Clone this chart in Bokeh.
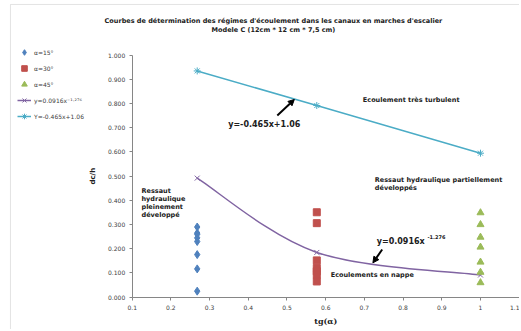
import math
from bokeh.plotting import figure
from bokeh.models import (Label, Arrow, NormalHead, Legend, LegendItem, BoxAnnotation,
                          NumeralTickFormatter, CustomJSTickFormatter, FixedTicker, Range1d)
from bokeh.embed import file_html
from bokeh.resources import INLINE

FONT = "DejaVu Sans"

# ---- data ----
x15 = [0.268] * 8
y15 = [0.290, 0.265, 0.260, 0.245, 0.230, 0.176, 0.117, 0.025]
x30 = [0.577] * 7
y30 = [0.351, 0.306, 0.152, 0.121, 0.107, 0.093, 0.065]
x45 = [1.0] * 7
y45 = [0.349, 0.300, 0.248, 0.207, 0.145, 0.103, 0.060]
xp = [0.268, 0.577, 1.0]
yp = [0.492, 0.185, 0.0916]          # y = 0.0916 x^-1.276
xl = [0.268, 0.577, 1.0]
yl = [0.935, 0.792, 0.595]           # Y = -0.465x + 1.06
x_ticks = [0.1, 0.2, 0.3, 0.4, 0.5, 0.6, 0.7, 0.8, 0.9, 1.0, 1.1]
y_ticks = [0.0, 0.1, 0.2, 0.3, 0.4, 0.5, 0.6, 0.7, 0.8, 0.9, 1.0]
names = ["\u03b1=15\u00b0", "\u03b1=30\u00b0", "\u03b1=45\u00b0",
         "y=0.0916x\u207b\u00b9\u00b7\u00b2\u2077\u2076", "Y=-0.465x+1.06"]

C_BLUE, C_RED, C_GREEN, C_PURPLE, C_CYAN = "#4F81BD", "#C0504D", "#9BBB59", "#8064A2", "#4BACC6"

p = figure(width=519, height=329, output_backend="svg", toolbar_location=None,
           x_range=Range1d(-0.2403, 1.1008), y_range=Range1d(-0.1335, 1.2260),
           min_border_left=0, min_border_right=0, min_border_top=0, min_border_bottom=0)
p.outline_line_color = None
p.grid.grid_line_color = None
p.background_fill_color = "white"

# axes drawn at fixed positions inside the full-canvas frame
p.xaxis.fixed_location = 0.0
p.xaxis.bounds = (0.1, 1.1)
p.yaxis.fixed_location = 0.1
p.yaxis.bounds = (0.0, 1.0)
for ax in (p.xaxis[0], p.yaxis[0]):
    ax.axis_line_color = "#868686"
    ax.major_tick_line_color = "#868686"
    ax.minor_tick_line_color = None
    ax.major_label_text_font = FONT
    ax.major_label_text_font_size = "6px"
    ax.major_label_text_color = "#404040"
    ax.major_tick_in = 0
    ax.major_tick_out = 3
p.xaxis.ticker = FixedTicker(ticks=x_ticks)
p.yaxis.ticker = FixedTicker(ticks=y_ticks)
p.xaxis.formatter = CustomJSTickFormatter(code="return tick.toFixed(1).replace(/\\.0$/, '');")
p.yaxis.formatter = NumeralTickFormatter(format="0.000")
p.xaxis.major_label_standoff = 5
p.yaxis.major_label_standoff = 4

# chart border
p.add_layout(BoxAnnotation(left=-0.2145, top=1.2095, right=1.3, bottom=-0.4,
                           fill_alpha=0, line_color="#a6a6a6", line_width=1))

# smooth curve (Catmull-Rom style, from the three data points)
pts = list(zip(xp, yp))
bx0, by0, bx1, by1, bcx0, bcy0, bcx1, bcy1 = [], [], [], [], [], [], [], []
for i in range(len(pts) - 1):
    pm = pts[i - 1] if i > 0 else pts[i]
    p0, p1 = pts[i], pts[i + 1]
    pn = pts[i + 2] if i + 2 < len(pts) else pts[i + 1]
    bx0.append(p0[0]); by0.append(p0[1]); bx1.append(p1[0]); by1.append(p1[1])
    bcx0.append(p0[0] + (p1[0] - pm[0]) / 6); bcy0.append(p0[1] + (p1[1] - pm[1]) / 6)
    bcx1.append(p1[0] - (pn[0] - p0[0]) / 6); bcy1.append(p1[1] - (pn[1] - p0[1]) / 6)
r_curve = p.bezier(x0=bx0, y0=by0, x1=bx1, y1=by1, cx0=bcx0, cy0=bcy0, cx1=bcx1, cy1=bcy1,
                   line_color=C_PURPLE, line_width=1.5)
pmk = p.scatter(xp, yp, marker="x", size=7, line_color=C_PURPLE, line_width=1)

r_lin = p.line(xl, yl, line_color=C_CYAN, line_width=1.5)
lmk = p.scatter(xl, yl, marker="asterisk", size=7, line_color=C_CYAN, line_width=1)

r15 = p.scatter(x15, y15, marker="diamond", size=8, fill_color=C_BLUE, line_color=C_BLUE)
r30 = p.scatter(x30, y30, marker="square", size=7, fill_color=C_RED, line_color=C_RED)
r45 = p.scatter(x45, y45, marker="triangle", size=7, fill_color=C_GREEN, line_color=C_GREEN)

legend = Legend(items=[
    LegendItem(label=names[0], renderers=[r15]),
    LegendItem(label=names[1], renderers=[r30]),
    LegendItem(label=names[2], renderers=[r45]),
    LegendItem(label=names[3], renderers=[r_curve, pmk]),
    LegendItem(label=names[4], renderers=[r_lin, lmk]),
], location=(17, 205), padding=0, margin=0, spacing=0, glyph_height=16, label_height=16,
    glyph_width=14, label_standoff=3, border_line_color=None, background_fill_alpha=0,
    label_text_font=FONT, label_text_font_size="6px", label_text_color="#404040")
p.add_layout(legend)

def lab(x, y, t, size="6.5px", bold=True, align="left", base="middle", font=FONT, angle=0):
    p.add_layout(Label(x=x, y=y, text=t, text_font=font, text_font_size=size,
                       text_font_style="bold" if bold else "normal", text_align=align,
                       text_baseline=base, text_color="#202020", angle=angle))

# titles
lab(0.465, 1.140, "Courbes de d\u00e9termination des r\u00e9gimes d'\u00e9coulement dans les canaux en marches d'escalier",
    size="6.5px", align="center")
lab(0.465, 1.103, "Modele C (12cm * 12 cm * 7,5 cm)", size="6.5px", align="center")

# axis titles
lab(0.6, -0.0965, "tg(\u03b1)", size="8px", align="center", font="DejaVu Serif")
lab(-0.0, 0.5, "dc/h", size="7px", align="center", angle=math.pi / 2)

# annotations
lab(0.696, 0.813, "Ecoulement tr\u00e8s turbulent")
lab(0.348, 0.714, "y=-0.465x+1.06", size="8px")
lab(0.124, 0.437, "Ressaut")
lab(0.124, 0.404, "hydraulique")
lab(0.124, 0.372, "pleinement")
lab(0.124, 0.341, "d\u00e9velopp\u00e9")
lab(0.727, 0.485, "Ressaut hydraulique partiellement")
lab(0.727, 0.452, "d\u00e9velopp\u00e9s")
lab(0.732, 0.231, "y=0.0916x", size="8px")
lab(0.863, 0.247, "-1.276", size="5px")
lab(0.613, 0.091, "Ecoulements en nappe")

p.add_layout(Arrow(end=NormalHead(size=6, fill_color="black", line_color="black"),
                   x_start=0.475, y_start=0.751, x_end=0.519, y_end=0.817,
                   line_color="black", line_width=2))
p.add_layout(Arrow(end=NormalHead(size=6, fill_color="black", line_color="black"),
                   x_start=0.746, y_start=0.197, x_end=0.722, y_end=0.142,
                   line_color="black", line_width=2))

open("out.html", "w").write(file_html(p, INLINE))
